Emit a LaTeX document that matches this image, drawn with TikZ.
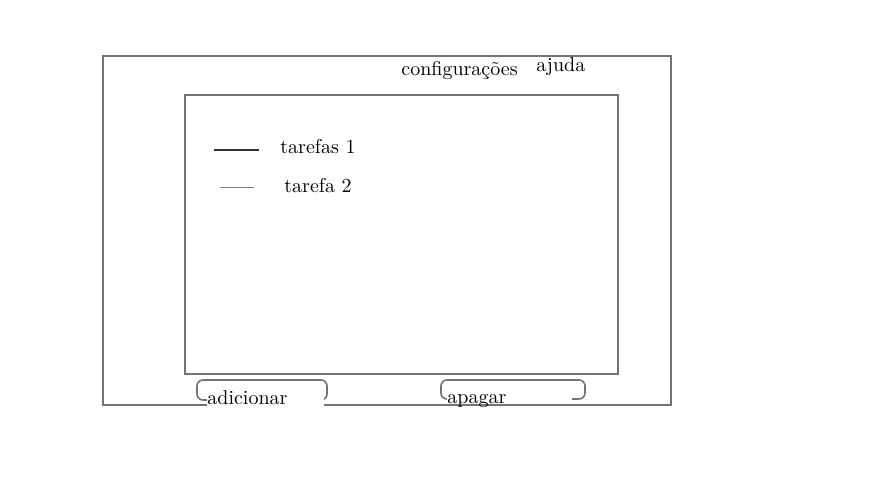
\documentclass[tikz,border=0pt]{standalone}
\begin{document}
\begin{tikzpicture}[x=0.5pt, y=-0.5pt,
        frame/.style={draw=black!55, line width=0.8pt},
        btn/.style={draw=black!55, line width=0.8pt, rounded corners=3pt},
        lbl/.style={anchor=base west, inner sep=0pt},
        btnlbl/.style={anchor=base west, fill=white, inner xsep=0pt, align=left, text depth=0pt}]
        \useasboundingbox (0,0) rectangle (880,495);

        \draw[frame] (103,56) rectangle (671,405);
        \draw[frame] (185,95) rectangle (618,374);

        \node[lbl] (config) at (401,75) {configurações};
        \node[lbl] (ajuda) at (536,71) {ajuda};
        \node[lbl] (tar1) at (280,153) {tarefas 1};
        \node[lbl] (tar2) at (284,192) {tarefa 2};

        \draw[black!80, line width=0.6pt] (214,150) -- (259,150);
        \draw[black!50, line width=0.4pt] (220,187) -- (254,187);

        \draw[btn] (197,380) rectangle (327,400);
        \draw[btn] (441,380) rectangle (585,399);
        \node[btnlbl, text width=58.5pt, inner ysep=1.5pt] (adic) at (207,404) {adicionar};
        \node[btnlbl, text width=62.5pt, inner ysep=0.5pt] (apag) at (447,403) {apagar};
    \end{tikzpicture}
\end{document}
